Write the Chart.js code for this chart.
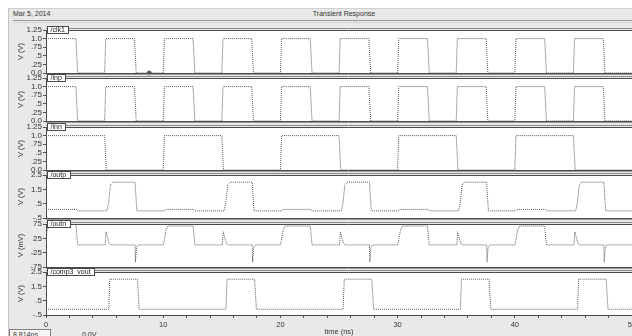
<!DOCTYPE html>
<html>
<head>
<meta charset="utf-8">
<script src="https://cdn.jsdelivr.net/npm/chart.js@4/dist/chart.umd.min.js"></script>
<style>
html,body{margin:0;padding:0;width:632px;height:336px;overflow:hidden;background:#fff;font-family:"Liberation Sans",Arial,sans-serif;}
#frame{position:absolute;left:8px;top:8px;width:624px;height:328px;background:#e9e9e9;border-left:1px solid #c4c4c4;border-top:1px solid #d0d0d0;box-sizing:border-box;}
.txt{position:absolute;font-size:7px;color:#333;white-space:nowrap;line-height:1;}
#hline{position:absolute;left:13px;top:20px;width:619px;height:1px;border-top:1px solid #9a9a9a;border-bottom:1px solid #d2d2d2;}
#cursorBox{position:absolute;left:9px;top:329px;width:42px;height:12px;border:1px solid #808080;background:#f7f7f7;box-sizing:border-box;}
canvas{position:absolute;left:0;}
</style>
</head>
<body>
<div id="frame"></div>
<div id="hline"></div>
<div class="txt" style="left:13px;top:10px;">Mar 5, 2014</div>
<div class="txt" style="left:344px;top:10px;transform:translateX(-50%);">Transient Response</div>
<div id="cursorBox"></div>
<div class="txt" style="left:13px;top:331px;">8.814ns</div>
<div class="txt" style="left:82px;top:331px;">0.0V</div>
<script>
// ---------- data ----------
const clkT = [0, 2.55, 2.7, 5, 5.1, 7.55, 7.7, 10, 10.1, 12.55, 12.7, 15, 15.1, 17.55, 17.7, 20, 20.1, 22.55, 22.7, 25, 25.1, 27.55, 27.7, 30, 30.1, 32.55, 32.7, 35, 35.1, 37.55, 37.7, 40, 40.1, 42.55, 42.7, 45, 45.1, 47.55, 47.7, 50];
const clkV = [1, 1, 0, 0, 1, 1, 0, 0, 1, 1, 0, 0, 1, 1, 0, 0, 1, 1, 0, 0, 1, 1, 0, 0, 1, 1, 0, 0, 1, 1, 0, 0, 1, 1, 0, 0, 1, 1, 0, 0];

const inpT = [0, 2.55, 2.7, 5, 5.1, 7.55, 7.7, 10, 10.1, 12.55, 12.7, 15, 15.1, 17.55, 17.7, 20, 20.1, 22.55, 22.7, 25, 25.1, 27.55, 27.7, 30, 30.1, 32.55, 32.7, 35, 35.1, 37.55, 37.7, 40, 40.1, 42.55, 42.7, 45, 45.1, 47.55, 47.7, 50];
const inpV = [1, 1, 0, 0, 1, 1, 0, 0, 1, 1, 0, 0, 1, 1, 0, 0, 1, 1, 0, 0, 1, 1, 0, 0, 1, 1, 0, 0, 1, 1, 0, 0, 1, 1, 0, 0, 1, 1, 0, 0];

const innT = [0, 5, 5.15, 10, 10.1, 15, 15.15, 20, 20.1, 25, 25.15, 30, 30.1, 35, 35.15, 40, 40.1, 45, 45.15, 50];
const innV = [1, 1, 0, 0, 1, 1, 0, 0, 1, 1, 0, 0, 1, 1, 0, 0, 1, 1, 0, 0];

const outpT = [0, 2.6, 2.7, 5.2, 5.35, 5.5, 5.7, 7.6, 7.75,
  10.1, 10.2, 12.6, 12.7, 15.2, 15.35, 15.5, 15.7, 17.6, 17.75,
  20.1, 20.2, 22.6, 22.7, 25.2, 25.35, 25.5, 25.7, 27.6, 27.75,
  30.1, 30.2, 32.6, 32.7, 35.2, 35.35, 35.5, 35.7, 37.6, 37.75,
  40.1, 40.2, 42.6, 42.7, 45.2, 45.35, 45.5, 45.7, 47.6, 47.75, 50];
const outpV = [0.1, 0.1, 0, 0, 0.6, 1.8, 2.0, 2.0, 0,
  0, 0.1, 0.1, 0, 0, 0.6, 1.8, 2.0, 2.0, 0,
  0, 0.1, 0.1, 0, 0, 0.6, 1.8, 2.0, 2.0, 0,
  0, 0.1, 0.1, 0, 0, 0.6, 1.8, 2.0, 2.0, 0,
  0, 0.1, 0.1, 0, 0, 0.6, 1.8, 2.0, 2.0, 0, 0];

const outnT = [0, 0.3, 2.55, 2.7, 5.05, 5.12, 5.25, 5.4, 5.55, 7.6, 7.63, 7.72, 7.85,
  10, 10.1, 10.25, 10.4, 12.55, 12.7, 15.05, 15.12, 15.25, 15.4, 15.55, 17.6, 17.63, 17.72, 17.85,
  20, 20.1, 20.25, 20.4, 22.55, 22.7, 25.05, 25.12, 25.25, 25.4, 25.55, 27.6, 27.63, 27.72, 27.85,
  30, 30.1, 30.25, 30.4, 32.55, 32.7, 35.05, 35.12, 35.25, 35.4, 35.55, 37.6, 37.63, 37.72, 37.85,
  40, 40.1, 40.25, 40.4, 42.55, 42.7, 45.05, 45.12, 45.25, 45.4, 45.55, 47.6, 47.63, 47.72, 47.85, 50];
const outnV = [38, 75, 74, 2, 2, 48, 28, 6, 2, 2, -58, -8, 2,
  2, 20, 55, 68, 68, 2, 2, 48, 28, 6, 2, 2, -58, -8, 2,
  2, 20, 55, 68, 68, 2, 2, 48, 28, 6, 2, 2, -58, -8, 2,
  2, 20, 55, 68, 68, 2, 2, 48, 28, 6, 2, 2, -58, -8, 2,
  2, 20, 55, 68, 68, 2, 2, 48, 28, 6, 2, 2, -58, -8, 2, 2];

const compT = [0, 5.35, 5.45, 7.8, 7.95, 15.35, 15.45, 17.8, 17.95, 25.35, 25.45, 27.8, 27.95, 35.35, 35.45, 37.8, 37.95, 45.35, 45.45, 47.8, 47.95, 50];
const compV = [-0.1, -0.1, 2, 2, -0.1, -0.1, 2, 2, -0.1, -0.1, 2, 2, -0.1, -0.1, 2, 2, -0.1, -0.1, 2, 2, -0.1, -0.1];

const cursorT = [8.814];
const cursorV = [0];

const logicTickVals = [0, 0.25, 0.5, 0.75, 1.0, 1.25];
const logicTickLabels = ['0.0', '.25', '.5', '.75', '1.0', '1.25'];
const voutTickVals = [-0.5, 0.5, 1.5, 2.5];
const voutTickLabels = ['-.5', '.5', '1.5', '2.5'];
const mvTickVals = [-75, -25, 25, 75];
const mvTickLabels = ['-75', '-25', '25', '75'];
const timeMinorVals = [0, 2, 4, 6, 8, 10, 12, 14, 16, 18, 20, 22, 24, 26, 28, 30, 32, 34, 36, 38, 40, 42, 44, 46, 48, 50];
const timeTickVals = [0, 10, 20, 30, 40, 50];
const timeTickLabels = ['0', '10', '20', '30', '40', '50'];

const signalNames = ['/clk1', '/inp', '/inn', '/outp', '/outn', '/comp3_vout'];
const unitTitles = ['V (V)', 'V (V)', 'V (V)', 'V (V)', 'V (mV)', 'V (V)'];

// ---------- layout ----------
const panelTops = [30, 78, 127, 175, 224, 272];
const PANEL_H = 43;

Chart.defaults.font.family = '"Liberation Sans", Arial, sans-serif';
Chart.defaults.color = '#333';

const panels = [
  {t: clkT, v: clkV, tv: logicTickVals, tl: logicTickLabels, min: 0, max: 1.25, marker: true},
  {t: inpT, v: inpV, tv: logicTickVals, tl: logicTickLabels, min: 0, max: 1.25},
  {t: innT, v: innV, tv: logicTickVals, tl: logicTickLabels, min: 0, max: 1.25},
  {t: outpT, v: outpV, tv: voutTickVals, tl: voutTickLabels, min: -0.5, max: 2.5},
  {t: outnT, v: outnV, tv: mvTickVals, tl: mvTickLabels, min: -75, max: 75},
  {t: compT, v: compV, tv: voutTickVals, tl: voutTickLabels, min: -0.5, max: 2.5}
];

const panelDecor = {
  id: 'panelDecor',
  beforeDraw(chart) {
    const {ctx, chartArea: a} = chart;
    ctx.save();
    ctx.fillStyle = '#ffffff';
    ctx.fillRect(a.left, a.top, a.right - a.left, a.bottom - a.top);
    ctx.restore();
  },
  afterDraw(chart, args, opts) {
    const {ctx, chartArea: a} = chart;
    ctx.save();
    ctx.lineWidth = 1;
    ctx.strokeStyle = '#4a4a4a';
    ctx.beginPath(); ctx.moveTo(a.left, a.bottom + 0.5); ctx.lineTo(a.right + 20, a.bottom + 0.5); ctx.stroke();
    if (!opts.last) {
      ctx.strokeStyle = '#9a9a9a';
      ctx.beginPath(); ctx.moveTo(a.left, a.bottom + 1.5); ctx.lineTo(a.right + 20, a.bottom + 1.5); ctx.stroke();
    }
    ctx.strokeStyle = '#8a8a8a';
    ctx.beginPath(); ctx.moveTo(a.left, a.top - 1.5); ctx.lineTo(a.right + 20, a.top - 1.5); ctx.stroke();
    ctx.strokeStyle = '#4a4a4a';
    ctx.beginPath(); ctx.moveTo(a.left, a.top + 0.5); ctx.lineTo(a.right + 20, a.top + 0.5); ctx.stroke();
    ctx.font = '7px "Liberation Sans", Arial, sans-serif';
    const w = Math.round(ctx.measureText(opts.label).width) + 7;
    const x0 = a.left + 1.5, y0 = a.top - 3.5;
    ctx.fillStyle = '#ffffff';
    ctx.fillRect(x0, y0, w, 7);
    ctx.strokeStyle = '#4a4a4a';
    ctx.strokeRect(x0, y0, w, 7);
    ctx.fillStyle = '#222';
    ctx.textBaseline = 'middle';
    ctx.textAlign = 'left';
    ctx.fillText(opts.label, x0 + 3, a.top + 0.2);
    ctx.restore();
  }
};

panels.forEach((p, i) => {
  const isLast = i === panels.length - 1;
  const padTop = 8, padBot = isLast ? 0 : 8, xH = isLast ? 22 : 0;
  const h = padTop + PANEL_H + padBot + xH;
  const cv = document.createElement('canvas');
  cv.width = 650; cv.height = h;
  cv.style.width = '650px'; cv.style.height = h + 'px';
  cv.style.top = (panelTops[i] - padTop) + 'px';
  document.body.appendChild(cv);

  const datasets = [{
    data: p.t.map((t, k) => ({x: t, y: p.v[k]})),
    borderColor: '#5a5a5a', borderWidth: 1, borderDash: [1, 1],
    pointRadius: 0, tension: 0, fill: false
  }];
  if (p.marker) {
    datasets.push({
      type: 'scatter',
      data: cursorT.map((t, k) => ({x: t, y: cursorV[k]})),
      pointRadius: 2, backgroundColor: '#555', borderColor: '#555', showLine: false, clip: false
    });
  }

  new Chart(cv, {
    type: 'line',
    data: {datasets},
    plugins: [panelDecor],
    options: {
      responsive: false,
      animation: false,
      events: [],
      layout: {padding: {top: padTop, bottom: padBot, left: 0, right: 18}},
      plugins: {
        legend: {display: false},
        tooltip: {enabled: false},
        panelDecor: {label: signalNames[i], last: isLast}
      },
      scales: {
        x: {
          type: 'linear', min: 0, max: 50, display: isLast, position: 'bottom',
          afterBuildTicks: s => { s.ticks = timeMinorVals.map(v => ({value: v})); },
          ticks: {
            autoSkip: false, maxRotation: 0, minRotation: 0, padding: 2,
            font: {size: 7.5}, color: '#333',
            callback: v => { const k = timeTickVals.indexOf(v); return k >= 0 ? timeTickLabels[k] : ''; }
          },
          grid: {drawOnChartArea: false, tickLength: 3, color: '#555'},
          border: {color: '#555'},
          title: {display: true, text: 'time (ns)', font: {size: 7.5}, color: '#333', padding: {top: 0, bottom: 1}},
          afterFit: s => { s.height = isLast ? 22 : 0; s.paddingLeft = 0; s.paddingRight = 0; }
        },
        y: {
          type: 'linear', min: p.min, max: p.max,
          afterBuildTicks: s => { s.ticks = p.tv.map(v => ({value: v})); },
          ticks: {
            padding: 1, font: {size: 8}, color: '#333', autoSkip: false,
            callback: v => { const k = p.tv.indexOf(v); return k >= 0 ? p.tl[k] : ''; }
          },
          grid: {drawOnChartArea: false, tickLength: 3, color: '#555'},
          border: {color: '#4a4a4a'},
          title: {display: true, text: unitTitles[i], font: {size: 7.5}, color: '#333', padding: {top: 16, bottom: 0}},
          afterFit: s => { s.width = 46; s.paddingTop = 0; s.paddingBottom = 0; }
        }
      }
    }
  });
});
</script>
</body>
</html>
